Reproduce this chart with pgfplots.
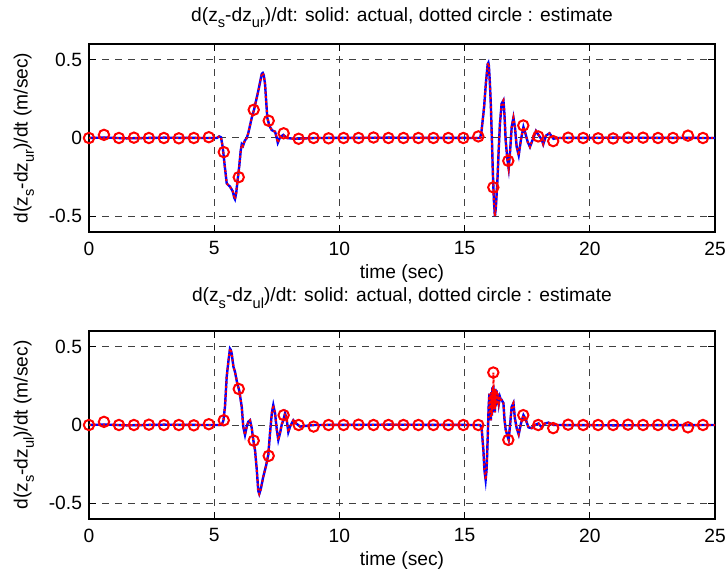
\documentclass[border=0pt]{standalone}
\usepackage{fontspec}
\setmainfont{Liberation Sans}
\usepackage{pgfplots}
\usepackage{pgfplotstable}
\pgfplotsset{compat=1.18}
\newcommand{\sbs}[1]{\raisebox{-3.2pt}{\fontsize{7.3}{8}\selectfont #1}}

\pgfplotstableread{
t v
0 0
0.6 0.003
1.5 -0.002
3.0 0.002
4.5 0
5.10 0
5.20 0.01
5.27 0.005
5.34 -0.057
5.41 -0.163
5.50 -0.29
5.56 -0.30
5.63 -0.31
5.74 -0.34
5.80 -0.38
5.83 -0.39
5.88 -0.35
5.92 -0.29
6.00 -0.18
6.06 -0.08
6.10 -0.04
6.15 -0.05
6.19 -0.03
6.23 -0.015
6.30 0.0
6.36 0.03
6.50 0.13
6.59 0.18
6.76 0.30
6.90 0.41
6.94 0.415
6.98 0.40
7.03 0.345
7.12 0.13
7.20 0.08
7.30 0.05
7.43 0.04
7.50 0.0
7.54 -0.03
7.63 0.005
7.76 0.02
7.90 0.0
8.2 -0.005
9.0 0
12.0 0.002
15.62 0
15.68 0.05
15.78 0.20
15.85 0.35
15.92 0.47
15.95 0.48
15.97 0.46
16.01 0.35
16.05 0.20
16.09 -0.01
16.13 -0.23
16.17 -0.40
16.21 -0.50
16.25 -0.44
16.31 -0.27
16.36 -0.08
16.41 0.09
16.48 0.22
16.55 0.24
16.59 0.155
16.64 -0.015
16.71 -0.14
16.76 -0.195
16.81 -0.10
16.88 0.07
16.95 0.13
17.01 0.07
17.08 -0.057
17.16 -0.11
17.25 -0.01
17.35 0.07
17.43 0.028
17.52 -0.025
17.61 -0.057
17.72 -0.01
17.85 0.045
17.97 0.015
18.08 -0.01
18.14 -0.04
18.25 0.015
18.39 0.03
18.55 -0.005
18.68 0
21.0 0.002
25 0
}\urAct

\pgfplotstableread{
t v
0 0
0.598 0.02
1.196 0
1.794 0.002
2.392 0
2.990 0
3.588 -0.002
4.186 0
4.784 0.005
5.382 -0.09
5.980 -0.25
6.578 0.18
7.176 0.11
7.774 0.03
8.372 -0.005
8.970 0
9.568 -0.002
10.166 0
10.764 0
11.362 0.003
11.960 0
12.558 0
13.156 0
13.754 0
14.352 0
14.950 0
15.548 0.01
16.146 -0.315
16.744 -0.146
17.342 0.08
17.940 0.01
18.538 -0.02
19.136 0.002
19.734 0
20.332 -0.002
20.930 -0.003
21.528 0.002
22.126 0.002
22.724 0
23.322 0
23.920 0.015
24.518 0
}\urMark

\pgfplotstableread{
t v
0 0
0.6 0.003
1.5 -0.002
3.0 0.002
4.5 0
5.30 0
5.37 0.03
5.43 0.116
5.50 0.31
5.57 0.41
5.63 0.487
5.66 0.48
5.70 0.455
5.77 0.37
5.83 0.34
5.92 0.265
6.00 0.22
6.10 0.116
6.16 -0.01
6.23 -0.063
6.30 -0.01
6.36 0.02
6.43 0.03
6.50 -0.02
6.56 -0.095
6.63 -0.16
6.70 -0.285
6.76 -0.42
6.80 -0.44
6.86 -0.41
6.96 -0.33
7.07 -0.26
7.16 -0.19
7.23 -0.05
7.30 0.074
7.36 0.127
7.43 0.074
7.50 -0.03
7.56 -0.095
7.63 -0.05
7.70 0.005
7.76 0.03
7.83 0.074
7.90 0.03
7.96 -0.045
8.03 -0.01
8.16 0.03
8.27 0.01
8.43 -0.01
8.69 -0.005
9.0 0
12.0 0.002
15.62 0
15.68 -0.02
15.75 -0.16
15.79 -0.285
15.84 -0.35
15.88 -0.28
15.92 -0.095
15.96 0.116
15.99 0.2
16.01 0.07
16.03 0.19
16.05 0.03
16.07 0.21
16.09 0.06
16.11 0.24
16.13 0.08
16.15 0.25
16.17 0.10
16.19 0.22
16.21 0.08
16.23 0.23
16.25 0.12
16.28 0.22
16.31 0.13
16.34 0.20
16.37 0.14
16.41 0.18
16.45 0.16
16.48 0.16
16.55 0.14
16.59 0.04
16.64 -0.03
16.71 -0.07
16.76 -0.095
16.81 -0.01
16.88 0.116
16.95 0.14
17.01 0.04
17.08 -0.02
17.16 -0.06
17.25 0.01
17.35 0.063
17.43 0.04
17.55 -0.015
17.68 -0.02
17.81 0.0
17.95 0.01
18.08 -0.015
18.21 0.01
18.35 0.015
18.55 0
21.0 -0.002
25 0
}\ulAct

\pgfplotstableread{
t v
0 0
0.6 0.003
1.5 -0.002
3.0 0.002
4.5 0
5.30 0
5.37 0.03
5.43 0.116
5.50 0.31
5.57 0.41
5.63 0.487
5.66 0.48
5.70 0.455
5.77 0.37
5.83 0.34
5.92 0.265
6.00 0.22
6.10 0.116
6.16 -0.01
6.23 -0.063
6.30 -0.01
6.36 0.02
6.43 0.03
6.50 -0.02
6.56 -0.095
6.63 -0.16
6.70 -0.285
6.76 -0.42
6.80 -0.44
6.86 -0.41
6.96 -0.33
7.07 -0.26
7.16 -0.19
7.23 -0.05
7.30 0.074
7.36 0.127
7.43 0.074
7.50 -0.03
7.56 -0.095
7.63 -0.05
7.70 0.005
7.76 0.03
7.83 0.074
7.90 0.03
7.96 -0.045
8.03 -0.01
8.16 0.03
8.27 0.01
8.43 -0.01
8.69 -0.005
9.0 0
12.0 0.002
15.62 0
15.68 -0.02
15.75 -0.16
15.79 -0.285
15.84 -0.35
15.88 -0.28
15.92 -0.095
15.96 0.116
15.99 0.2
16.01 0.07
16.03 0.19
16.05 0.03
16.07 0.21
16.09 0.06
16.11 0.24
16.13 0.10
16.15 0.335
16.17 0.10
16.19 0.22
16.21 0.08
16.23 0.23
16.25 0.12
16.28 0.22
16.31 0.13
16.34 0.20
16.37 0.14
16.41 0.18
16.45 0.16
16.48 0.16
16.55 0.14
16.59 0.04
16.64 -0.03
16.71 -0.07
16.76 -0.095
16.81 -0.01
16.88 0.116
16.95 0.14
17.01 0.04
17.08 -0.02
17.16 -0.06
17.25 0.01
17.35 0.063
17.43 0.04
17.55 -0.015
17.68 -0.02
17.81 0.0
17.95 0.01
18.08 -0.015
18.21 0.01
18.35 0.015
18.55 0
21.0 -0.002
25 0
}\ulEst

\pgfplotstableread{
t v
0 0
0.598 0.02
1.196 0
1.794 0
2.392 0.002
2.990 0
3.588 0
4.186 -0.002
4.784 0.005
5.382 0.03
5.980 0.23
6.578 -0.10
7.176 -0.197
7.774 0.063
8.372 0
8.970 -0.01
9.568 0
10.166 0
10.764 0.002
11.362 0
11.960 0
12.558 0
13.156 0
13.754 0
14.352 0
14.950 0
15.548 0
16.146 0.335
16.744 -0.095
17.342 0.063
17.940 0
18.538 -0.02
19.136 0.002
19.734 0
20.332 0
20.930 0
21.528 0.002
22.126 0
22.724 0
23.322 0
23.920 -0.015
24.518 0
}\ulMark

\pgfplotsset{
  every axis title shift=0pt,
  mat/.style={
    scale only axis,
    width=313pt, height=94pt,
    xmin=0, xmax=25, ymin=-0.6, ymax=0.6,
    xtick={0,5,10,15,20,25}, xticklabels={0,5,10,15,20,25},
    ytick={-0.5,0,0.5}, yticklabels={-0.5,0,0.5},
    tick align=inside, major tick length=3.5pt,
    tick style={black, line width=0.5pt},
    axis line style={line width=0.6pt},
    grid=major,
    grid style={black!75, line width=0.5pt, dash pattern=on 3.5pt off 3pt},
    tick label style={font=\fontsize{9.6}{11.5}\selectfont},
    xticklabel style={yshift=-1.3pt},
    label style={font=\fontsize{9.6}{11.5}\selectfont},
    title style={font=\fontsize{9.6}{11.5}\selectfont, at={(axis description cs:0.5,1)}, anchor=base},
    xlabel style={at={(axis description cs:0.5,0)}, anchor=center, yshift=-21pt},
    ylabel style={at={(axis description cs:-0.104,0.5)}, anchor=center},
    xlabel={time (sec)},
  },
  act/.style={blue, line width=1.2pt, no marks},
  est/.style={red, line width=1pt, dash pattern=on 1pt off 1.3pt, no marks},
  mk/.style={only marks, red, mark=o, mark size=2.6pt, mark options={line width=1pt, solid}},
}

\begin{document}
\begin{tikzpicture}
\useasboundingbox (0,0) rectangle (363.5pt,289pt);
\begin{axis}[mat, at={(44.5pt,267pt)}, anchor=north west,
  title style={yshift=11.3pt},
  title={d(z\sbs{s}-dz\sbs{ur})/dt: solid: actual, dotted circle : estimate},
  ylabel={d(z\sbs{s}-dz\sbs{ur})/dt (m/sec)}]
\addplot[act] table[x=t,y=v] {\urAct};
\addplot[est] table[x=t,y=v] {\urAct};
\addplot[mk] table[x=t,y=v] {\urMark};
\end{axis}
\begin{axis}[mat, at={(44.5pt,123.5pt)}, anchor=north west,
  title style={yshift=14.5pt},
  title={d(z\sbs{s}-dz\sbs{ul})/dt: solid: actual, dotted circle : estimate},
  ylabel={d(z\sbs{s}-dz\sbs{ul})/dt (m/sec)}]
\addplot[act] table[x=t,y=v] {\ulAct};
\addplot[est] table[x=t,y=v] {\ulEst};
\addplot[mk] table[x=t,y=v] {\ulMark};
\end{axis}
\end{tikzpicture}
\end{document}
